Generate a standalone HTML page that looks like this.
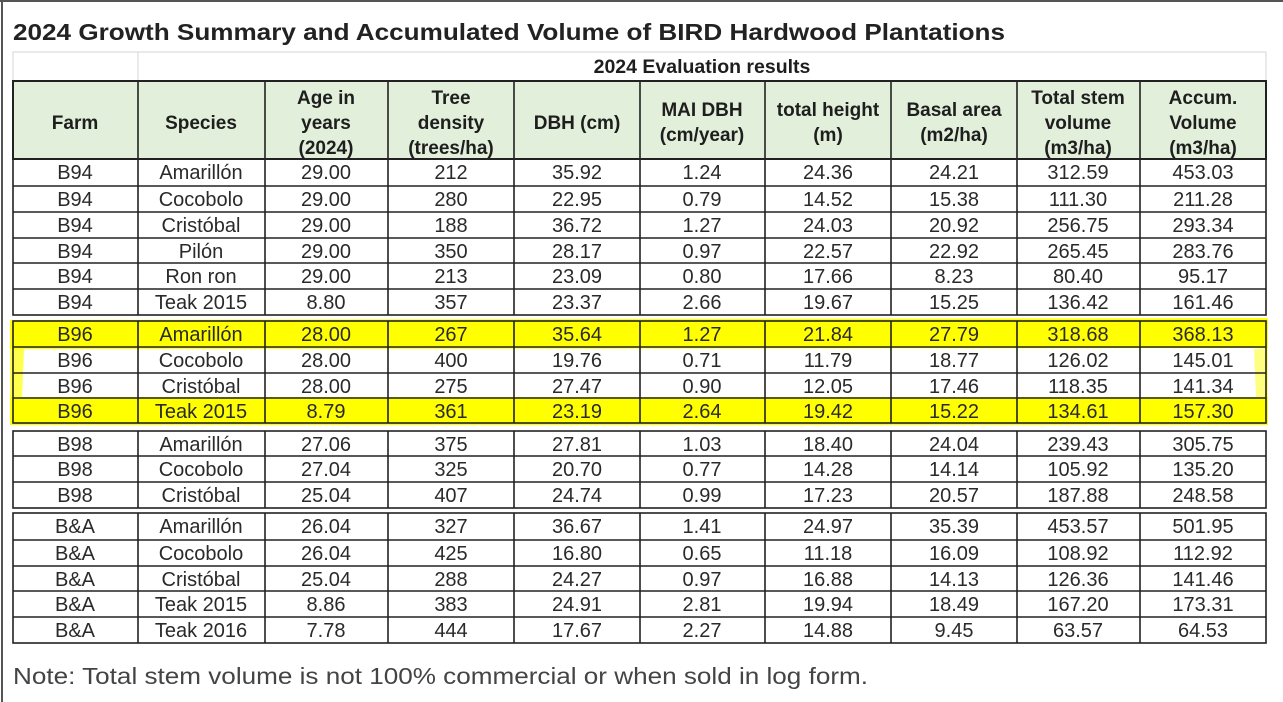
<!DOCTYPE html>
<html><head><meta charset="utf-8"><style>
body{margin:0;background:#fff;width:1283px;height:702px;overflow:hidden}
svg{display:block}
text{font-family:"Liberation Sans",Arial,sans-serif;fill:#1e1e1e}
.h{font-weight:bold;font-size:19px;text-anchor:middle}
.d{font-size:20px;text-anchor:middle;fill:#2a2a2a}
</style></head><body>
<svg width="1283" height="702" viewBox="0 0 1283 702">
<rect x="0" y="0" width="1283" height="702" fill="#fff"/>
<line x1="2" y1="0" x2="2" y2="702" stroke="#555" stroke-width="2"/>
<line x1="0" y1="1" x2="1283" y2="1" stroke="#555" stroke-width="2"/>
<text x="13" y="40" textLength="992" lengthAdjust="spacingAndGlyphs" style="font-weight:bold;font-size:23px;fill:#222">2024 Growth Summary and Accumulated Volume of BIRD Hardwood Plantations</text>
<rect x="13" y="52" width="1253" height="29" fill="none" stroke="#d6d6d6" stroke-width="1"/>
<line x1="138" y1="52" x2="138" y2="81" stroke="#d6d6d6"/>
<text x="702" y="73" style="font-weight:bold;font-size:19.5px;text-anchor:middle">2024 Evaluation results</text>
<rect x="13" y="81" width="1253" height="78" fill="#e2efda" stroke="#222" stroke-width="2"/>
<path d="M10 320 L1268 318 L1268 348 L10 349 Z" fill="#ffff00"/>
<path d="M10 397 L1268 397 L1268 425 L10 425 Z" fill="#ffff00"/>
<path d="M10 349 L24 349 L22 397 L10 397 Z" fill="#ffff00" opacity="0.7"/>
<path d="M1254 349 L1268 348 L1268 397 L1256 397 Z" fill="#ffff00" opacity="0.5"/>
<g stroke="#222" stroke-width="1.6" fill="none">
<rect x="13" y="159" width="1253" height="156"/>
<rect x="13" y="321" width="1253" height="102"/>
<rect x="13" y="431" width="1253" height="77"/>
<rect x="13" y="513" width="1253" height="130"/>
<path d="M13 186H1266M13 212H1266M13 238H1266M13 263H1266M13 289H1266
M13 347H1266M13 373H1266M13 398H1266
M13 456H1266M13 482H1266
M13 540H1266M13 566H1266M13 591H1266M13 617H1266"/>
<path d="M138 81V315M265 81V315M388 81V315M514 81V315M640 81V315M765 81V315M891 81V315M1017 81V315M1140 81V315
M138 321V423M265 321V423M388 321V423M514 321V423M640 321V423M765 321V423M891 321V423M1017 321V423M1140 321V423
M138 431V508M265 431V508M388 431V508M514 431V508M640 431V508M765 431V508M891 431V508M1017 431V508M1140 431V508
M138 513V643M265 513V643M388 513V643M514 513V643M640 513V643M765 513V643M891 513V643M1017 513V643M1140 513V643"/>
</g>
<g>
<text class="h" x="75" y="129">Farm</text>
<text class="h" x="201" y="129">Species</text>
<text class="h" x="326" y="104">Age in</text><text class="h" x="326" y="129">years</text><text class="h" x="326" y="154">(2024)</text>
<text class="h" x="451" y="104">Tree</text><text class="h" x="451" y="129">density</text><text class="h" x="451" y="154">(trees/ha)</text>
<text class="h" x="577" y="129">DBH (cm)</text>
<text class="h" x="702" y="116">MAI DBH</text><text class="h" x="702" y="141">(cm/year)</text>
<text class="h" x="828" y="116">total height</text><text class="h" x="828" y="141">(m)</text>
<text class="h" x="954" y="116">Basal area</text><text class="h" x="954" y="141">(m2/ha)</text>
<text class="h" x="1078" y="104">Total stem</text><text class="h" x="1078" y="129">volume</text><text class="h" x="1078" y="154">(m3/ha)</text>
<text class="h" x="1203" y="104">Accum.</text><text class="h" x="1203" y="129">Volume</text><text class="h" x="1203" y="154">(m3/ha)</text>
</g>
<g id="data"></g>
<text x="13" y="684" textLength="855" lengthAdjust="spacingAndGlyphs" style="font-size:23px;fill:#444">Note: Total stem volume is not 100% commercial or when sold in log form.</text>
</svg>
<script>
var rows=[
[159,"B94","Amarillón","29.00","212","35.92","1.24","24.36","24.21","312.59","453.03"],
[186,"B94","Cocobolo","29.00","280","22.95","0.79","14.52","15.38","111.30","211.28"],
[212,"B94","Cristóbal","29.00","188","36.72","1.27","24.03","20.92","256.75","293.34"],
[238,"B94","Pilón","29.00","350","28.17","0.97","22.57","22.92","265.45","283.76"],
[263,"B94","Ron ron","29.00","213","23.09","0.80","17.66","8.23","80.40","95.17"],
[289,"B94","Teak 2015","8.80","357","23.37","2.66","19.67","15.25","136.42","161.46"],
[321,"B96","Amarillón","28.00","267","35.64","1.27","21.84","27.79","318.68","368.13"],
[347,"B96","Cocobolo","28.00","400","19.76","0.71","11.79","18.77","126.02","145.01"],
[373,"B96","Cristóbal","28.00","275","27.47","0.90","12.05","17.46","118.35","141.34"],
[398,"B96","Teak 2015","8.79","361","23.19","2.64","19.42","15.22","134.61","157.30"],
[431,"B98","Amarillón","27.06","375","27.81","1.03","18.40","24.04","239.43","305.75"],
[456,"B98","Cocobolo","27.04","325","20.70","0.77","14.28","14.14","105.92","135.20"],
[482,"B98","Cristóbal","25.04","407","24.74","0.99","17.23","20.57","187.88","248.58"],
[513,"B&A","Amarillón","26.04","327","36.67","1.41","24.97","35.39","453.57","501.95"],
[540,"B&A","Cocobolo","26.04","425","16.80","0.65","11.18","16.09","108.92","112.92"],
[566,"B&A","Cristóbal","25.04","288","24.27","0.97","16.88","14.13","126.36","141.46"],
[591,"B&A","Teak 2015","8.86","383","24.91","2.81","19.94","18.49","167.20","173.31"],
[617,"B&A","Teak 2016","7.78","444","17.67","2.27","14.88","9.45","63.57","64.53"]];
var cx=[75,201,326,451,577,702,828,954,1078,1203];
var g=document.getElementById("data"),ns="http://www.w3.org/2000/svg";
rows.forEach(function(r){for(var i=1;i<r.length;i++){var t=document.createElementNS(ns,"text");
t.setAttribute("x",cx[i-1]);t.setAttribute("y",r[0]+20);t.setAttribute("class","d");t.textContent=r[i];g.appendChild(t);}});
</script>
</body></html>
